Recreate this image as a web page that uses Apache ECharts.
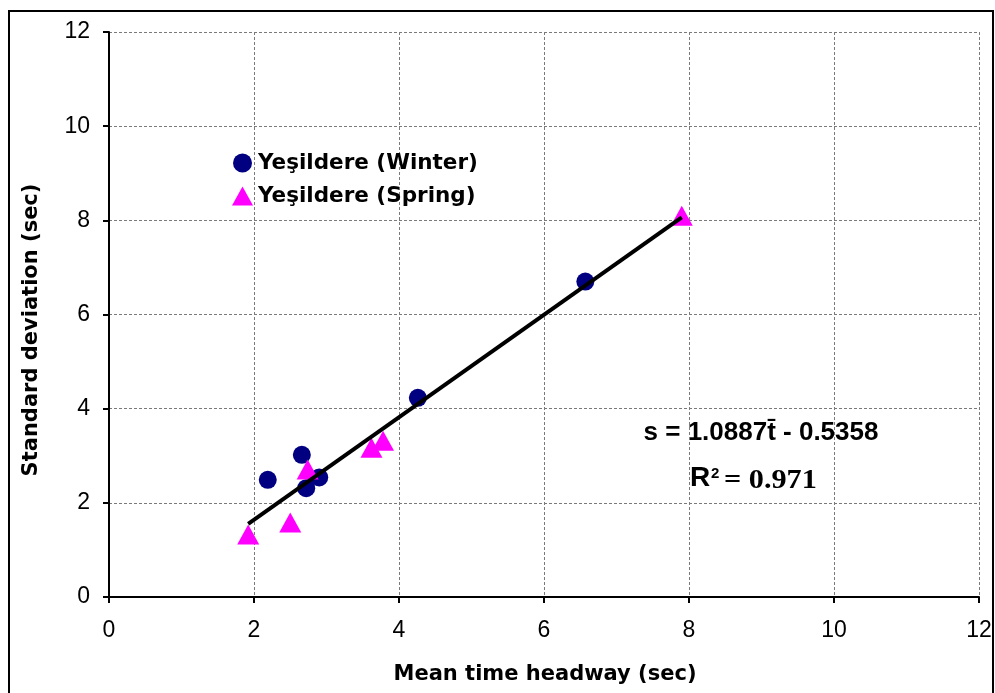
<!DOCTYPE html>
<html>
<head>
<meta charset="utf-8">
<title>Mean time headway vs standard deviation</title>
<script src="https://cdn.jsdelivr.net/npm/echarts@6/dist/echarts.min.js"></script>
<style>
  html, body { margin: 0; padding: 0; background: #ffffff; }
  #chart { width: 995px; height: 693px; }
</style>
</head>
<body>
<div id="chart"></div>
<script>
// Mean time headway (sec) and standard deviation (sec) per observation
const seriesNames = ['Yeşildere (Winter)', 'Yeşildere (Spring)'];
const winterMean = [2.19, 2.66, 2.72, 2.90, 4.26, 6.57];
const winterStd  = [2.49, 3.02, 2.31, 2.54, 4.23, 6.70];
const springMean = [1.92, 2.50, 2.74, 3.62, 3.78, 7.90];
const springStd  = [1.33, 1.58, 2.71, 3.17, 3.32, 8.10];

// Fitted regression s = a * t̄ + b
const fitSlope = 1.0887;
const fitIntercept = -0.5358;
const fitR2 = 0.971;

// Axis ranges and tick labels
const xTicks = [0, 2, 4, 6, 8, 10, 12];
const yTicks = [0, 2, 4, 6, 8, 10, 12];

const toPairs = (xs, ys) => xs.map((x, i) => [x, ys[i]]);
const allMeans = winterMean.concat(springMean);
const fitStart = Math.min(...allMeans);
const fitEnd = Math.max(...allMeans);
const fitLine = [fitStart, fitEnd].map(t => [t, fitSlope * t + fitIntercept]);

const chart = echarts.init(document.getElementById('chart'), null, { renderer: 'canvas' });

const axisCommon = {
  type: 'value',
  axisLine: { show: true, onZero: false, lineStyle: { color: '#000', width: 2 } },
  axisTick: { show: true, inside: false, length: 6, lineStyle: { color: '#000', width: 2 } },
  axisLabel: { color: '#000', fontSize: 23, fontFamily: '"Liberation Sans", Arial, sans-serif' },
  splitLine: { show: true, lineStyle: { color: '#7a7a7a', width: 1, type: [3, 2] } }
};

const option = {
  animation: false,
  backgroundColor: '#ffffff',
  grid: { left: 109, right: 16, top: 32, bottom: 96, containLabel: false },
  xAxis: Object.assign({}, axisCommon, {
    min: xTicks[0], max: xTicks[xTicks.length - 1], interval: xTicks[1] - xTicks[0],
    axisLabel: Object.assign({}, axisCommon.axisLabel, { margin: 22 })
  }),
  yAxis: Object.assign({}, axisCommon, {
    min: yTicks[0], max: yTicks[yTicks.length - 1], interval: yTicks[1] - yTicks[0],
    axisLabel: Object.assign({}, axisCommon.axisLabel, { margin: 19 })
  }),
  legend: {
    data: seriesNames,
    orient: 'vertical',
    left: 227,
    top: 147,
    itemWidth: 21,
    itemHeight: 19,
    itemGap: 11,
    textStyle: { color: '#000', fontSize: 21.5, fontWeight: 'bold', fontFamily: '"DejaVu Sans", sans-serif' }
  },
  series: [
    {
      name: seriesNames[0],
      type: 'scatter',
      symbol: 'circle',
      symbolSize: 18,
      itemStyle: { color: '#000080', opacity: 1 },
      data: toPairs(winterMean, winterStd),
      z: 2
    },
    {
      name: seriesNames[1],
      type: 'scatter',
      symbol: 'triangle',
      symbolSize: [22, 20],
      itemStyle: { color: '#FF00FF', opacity: 1 },
      data: toPairs(springMean, springStd),
      z: 3
    },
    {
      name: 'fit',
      type: 'line',
      symbol: 'none',
      silent: true,
      lineStyle: { color: '#000', width: 4 },
      data: fitLine,
      z: 4
    }
  ],
  graphic: [
    // outer frame
    {
      type: 'rect', z: -10, silent: true,
      shape: { x: 9, y: 11, width: 984, height: 720 },
      style: { fill: 'none', stroke: '#000', lineWidth: 2 }
    },
    // axis titles
    {
      type: 'text', x: 545, y: 675, silent: true,
      style: {
        text: 'Mean time headway (sec)', fill: '#000',
        font: 'bold 21px "DejaVu Sans", sans-serif',
        align: 'center', verticalAlign: 'middle'
      }
    },
    {
      type: 'text', x: 32, y: 330, rotation: Math.PI / 2, silent: true,
      style: {
        text: 'Standard deviation (sec)', fill: '#000',
        font: 'bold 21px "DejaVu Sans", sans-serif',
        align: 'center', verticalAlign: 'middle'
      }
    },
    // regression equation
    {
      type: 'text', x: 761, y: 433, silent: true,
      style: {
        text: 's = ' + fitSlope.toFixed(4) + 't\u0304 - ' + Math.abs(fitIntercept).toFixed(4),
        fill: '#000',
        font: 'bold 26px "Liberation Sans", Arial, sans-serif',
        align: 'center', verticalAlign: 'middle'
      }
    },
    {
      type: 'text', x: 690, y: 478, silent: true,
      style: { text: 'R', fill: '#000', font: 'bold 28px "Liberation Sans", Arial, sans-serif', align: 'left', verticalAlign: 'middle' }
    },
    {
      type: 'text', x: 711, y: 474, silent: true,
      style: { text: '2', fill: '#000', font: 'bold 15px "Liberation Sans", Arial, sans-serif', align: 'left', verticalAlign: 'middle' }
    },
    {
      type: 'text', x: 724, y: 481, scaleX: 1.12, silent: true,
      style: { text: '= ' + fitR2.toFixed(3), fill: '#000', font: 'bold 27px "Liberation Serif", "Times New Roman", serif', align: 'left', verticalAlign: 'middle' }
    }
  ]
};

chart.setOption(option);
</script>
</body>
</html>
